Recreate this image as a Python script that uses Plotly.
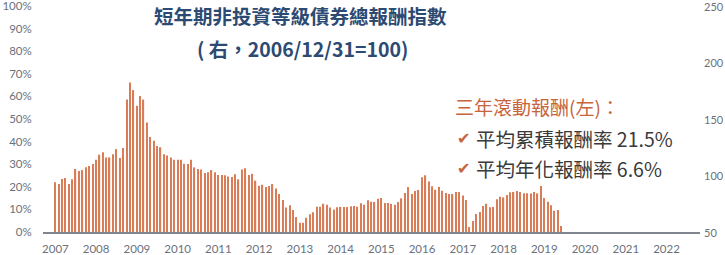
import pandas as pd
import plotly.graph_objects as go

# Monthly 3-year rolling return (%), Jan 2007 - Jun 2019
start_month = "2007-01-01"
rolling_3y = [
    22.0, 21.2, 23.5, 23.9, 21.2, 23.3, 27.9, 27.0, 27.4, 28.6, 29.2, 30.1,
    32.0, 34.2, 35.3, 33.0, 33.0, 34.4, 36.7, 32.7, 37.2, 58.6, 66.2, 62.8,
    55.9, 60.2, 58.6, 48.4, 42.0, 40.4, 38.1, 37.5, 34.4, 33.9, 33.0, 32.0,
    32.0, 32.0, 30.2, 30.1, 32.0, 28.6, 27.9, 27.7, 26.1, 26.4, 27.4, 26.4,
    25.2, 25.2, 25.1, 24.6, 24.3, 25.5, 23.3, 27.6, 28.2, 25.2, 25.8, 22.7,
    20.5, 20.9, 19.9, 20.4, 21.2, 19.2, 16.8, 14.2, 10.8, 11.8, 9.7, 6.6,
    4.1, 4.1, 6.3, 7.8, 8.7, 11.2, 11.2, 12.5, 12.1, 10.8, 10.0, 10.9,
    11.1, 11.1, 11.1, 11.4, 11.5, 11.2, 12.7, 12.1, 14.0, 13.4, 13.3, 14.7,
    15.0, 12.8, 12.8, 12.4, 12.1, 13.3, 14.9, 17.3, 19.9, 16.8, 18.1, 18.6,
    24.2, 25.1, 22.4, 20.2, 18.7, 19.9, 18.3, 17.3, 16.8, 16.8, 17.7, 17.7,
    16.1, 14.2, 2.2, 4.9, 8.0, 8.8, 11.5, 12.5, 10.9, 11.1, 14.5, 15.6,
    15.3, 16.4, 17.6, 17.7, 18.1, 17.7, 17.1, 17.1, 17.0, 17.7, 17.1, 20.4,
    15.0, 13.4, 11.8, 9.4, 9.7, 2.7,
]
months = pd.date_range(start_month, periods=len(rolling_3y), freq="MS")

left_ticks = [0, 10, 20, 30, 40, 50, 60, 70, 80, 90, 100]
left_labels = [f"{v}%" for v in left_ticks]
right_ticks = [50, 100, 150, 200, 250]
right_labels = [str(v) for v in right_ticks]

title_line1 = "短年期非投資等級債券總報酬指數"
title_line2 = "( 右，2006/12/31=100)"
legend_head = "三年滾動報酬(左)："
stat_lines = ["平均累積報酬率 21.5%", "平均年化報酬率 6.6%"]

BAR = "#d87d58"
ORANGE = "#c8643c"
NAVY = "#2c4a72"
TICK = "#6b717c"
CJK = "Noto Sans CJK TC"

fig = go.Figure()
fig.add_trace(go.Bar(
    x=months, y=rolling_3y, marker=dict(color=BAR, line=dict(width=0)),
    width=[1000 * 3600 * 24 * 11] * len(rolling_3y), yaxis="y",
))
fig.add_trace(go.Scatter(x=[], y=[], yaxis="y2", showlegend=False))

fig.update_layout(
    width=725, height=255,
    margin=dict(l=43, r=25, t=6, b=23, autoexpand=False),
    paper_bgcolor="white", plot_bgcolor="white",
    showlegend=False,
    xaxis=dict(
        type="date", range=["2006-09-12", "2022-10-28"],
        tick0="2007-01-01", dtick="M12", tickformat="%Y",
        showgrid=False, showline=True, linecolor="#80858f", linewidth=1.5,
        ticks="outside", ticklen=5, tickcolor="rgba(0,0,0,0)",
        tickfont=dict(family="Lato", size=11.5, color=TICK),
        zeroline=False, automargin=False, ticklabeloverflow="allow",
    ),
    yaxis=dict(
        range=[0, 100], tickvals=left_ticks, ticktext=left_labels,
        showgrid=False, showline=False, zeroline=False,
        ticks="outside", ticklen=8, tickcolor="rgba(0,0,0,0)",
        tickfont=dict(family="Lato", size=11.5, color=TICK),
        automargin=False, ticklabeloverflow="allow",
    ),
    yaxis2=dict(
        range=[50, 250], overlaying="y", side="right", anchor="x",
        showgrid=False, showline=False, zeroline=False, showticklabels=False,
        ticks="", automargin=False,
    ),
)

ann = [
    dict(text=f"<b>{title_line1}</b>", x=300, y=16, font=dict(family=CJK, size=19.5, color=NAVY), xanchor="center"),
    dict(text=f"<b>{title_line2}</b>", x=302, y=48, font=dict(family=CJK, size=19.5, color=NAVY), xanchor="center"),
    dict(text=legend_head, x=453, y=106, font=dict(family=CJK, size=19, color=ORANGE), xanchor="left"),
]
for i, s in enumerate(stat_lines):
    yy = 138 + i * 30
    ann.append(dict(text="✔", x=455, y=yy, font=dict(family="DejaVu Sans", size=16, color=ORANGE), xanchor="left"))
    ann.append(dict(text=s, x=474, y=yy, font=dict(family=CJK, size=19.5, color="#3a3a3a"), xanchor="left"))

for a in ann:
    a.update(xref="paper", yref="paper", showarrow=False, yanchor="middle")
    a["x"] = (a["x"] - 43) / 657
    a["y"] = 1 - (a["y"] - 6) / 226

# right-axis tick labels, placed on the y2 scale
for v, t in zip(right_ticks, right_labels):
    ann.append(dict(text=t, xref="paper", x=(702 - 43) / 657, yref="y2", y=v,
                    xanchor="left", yanchor="middle", showarrow=False,
                    font=dict(family="Lato", size=11, color=TICK)))
fig.update_layout(annotations=ann)

fig.write_html("out.html")
